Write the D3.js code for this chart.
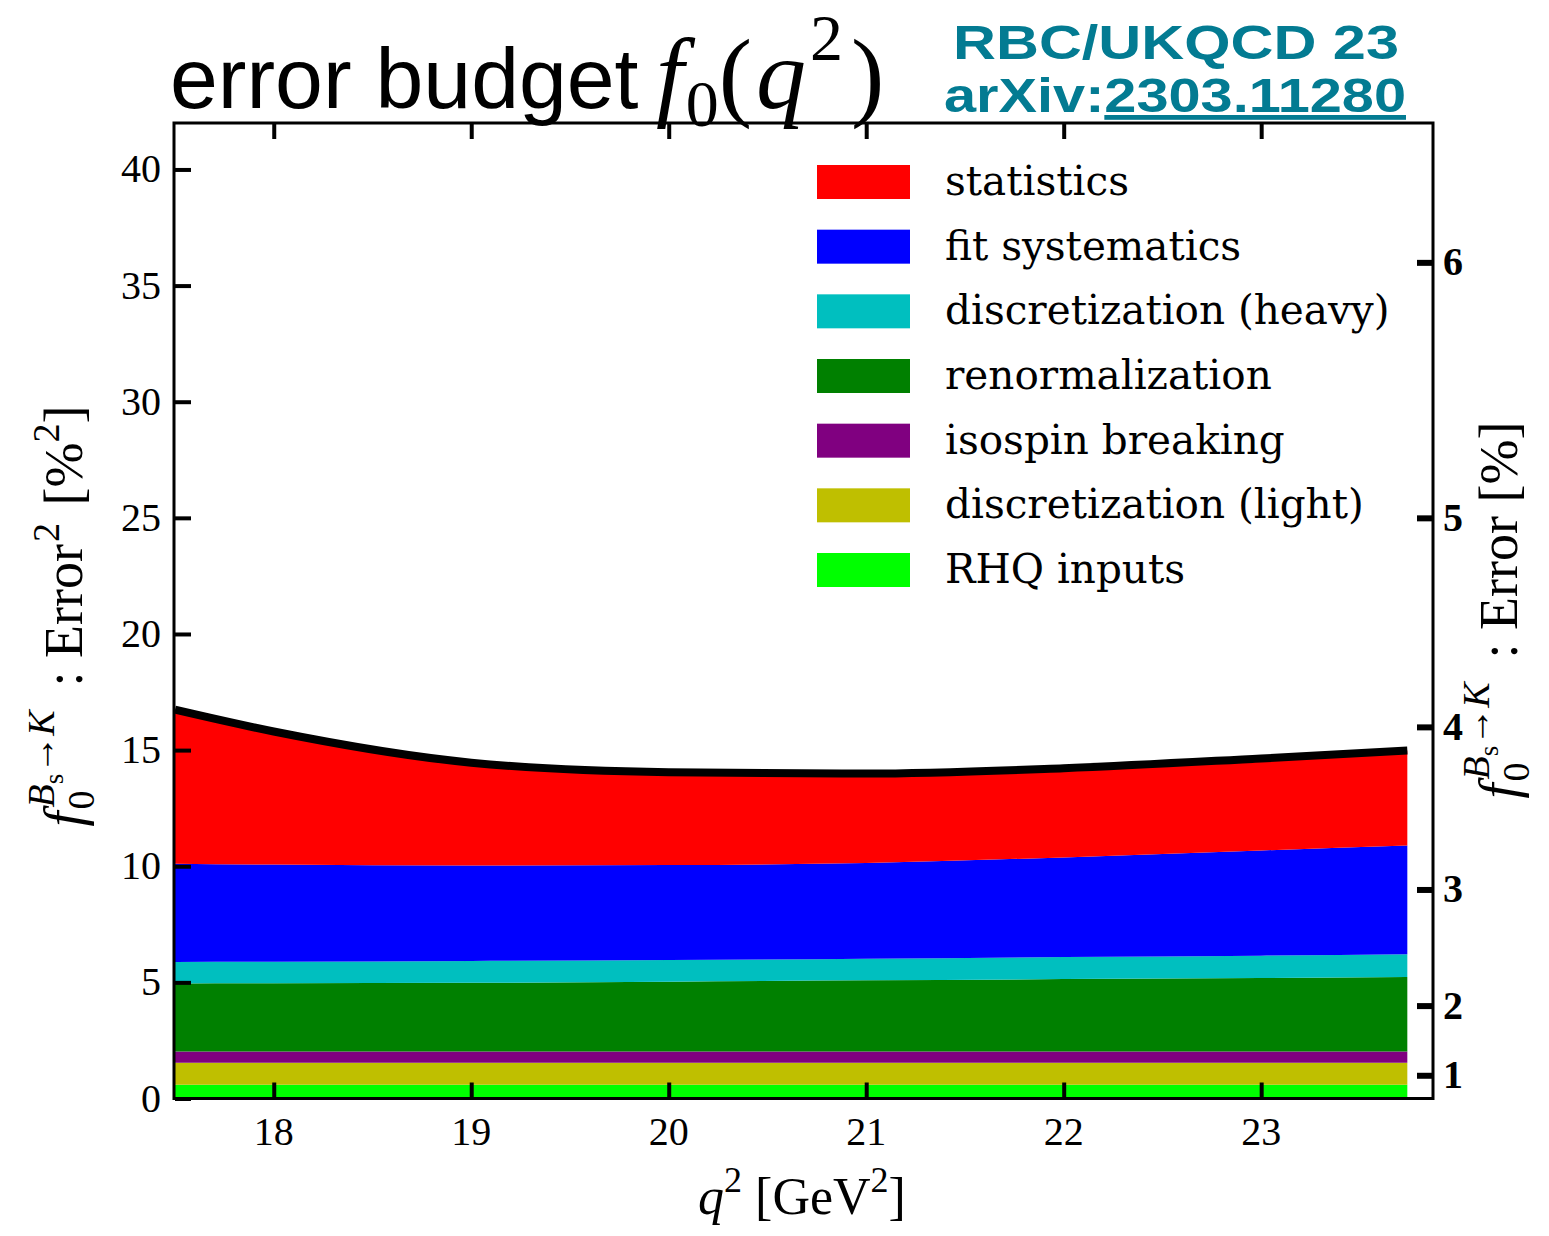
<!DOCTYPE html>
<html><head><meta charset="utf-8">
<script src="https://cdn.jsdelivr.net/npm/d3@7/dist/d3.min.js"></script>
<style>body{margin:0;background:#fff}svg{display:block}</style>
</head><body>
<svg id="chart" width="1549" height="1236"></svg>
<script>
// ---- data ----
const q2 = [17.5, 18, 19, 20, 21, 22, 23, 23.74];
const rhqInputs      = [0.59, 0.59, 0.59, 0.59, 0.59, 0.59, 0.59, 0.59];
const discLight      = [0.95, 0.95, 0.95, 0.95, 0.95, 0.95, 0.95, 0.95];
const isospin        = [0.48, 0.48, 0.48, 0.48, 0.48, 0.48, 0.48, 0.48];
const renormalization= [2.93, 2.94, 2.96, 3.01, 3.07, 3.12, 3.17, 3.21];
const discHeavy      = [0.93, 0.93, 0.94, 0.93, 0.93, 0.95, 0.96, 0.98];
const fitSystematics = [4.23, 4.18, 4.11, 4.09, 4.12, 4.29, 4.53, 4.68];
const statistics     = [6.63, 5.73, 4.43, 4.00, 3.85, 3.84, 3.96, 4.09];

const seriesKeys  = ["RHQ inputs", "discretization (light)", "isospin breaking", "renormalization",
                     "discretization (heavy)", "fit systematics", "statistics"];
const seriesVals  = [rhqInputs, discLight, isospin, renormalization, discHeavy, fitSystematics, statistics];
const seriesColors= ["#00ff00", "#bfbf00", "#800080", "#008000", "#00bfbf", "#0000ff", "#ff0000"];
const legendOrder = ["statistics", "fit systematics", "discretization (heavy)", "renormalization",
                     "isospin breaking", "discretization (light)", "RHQ inputs"];
const xTicks = [18, 19, 20, 21, 22, 23];
const yTicks = [0, 5, 10, 15, 20, 25, 30, 35, 40];
const rightTicks = [1, 2, 3, 4, 5, 6];

// ---- layout ----
const L = 175, R = 1433, T = 123, B = 1098.5;
const svg = d3.select("#chart");
const x = d3.scaleLinear().domain([17.5, 23.87]).range([L, R]);
const y = d3.scaleLinear().domain([0, 42]).range([B, T]);
const color = d3.scaleOrdinal().domain(seriesKeys).range(seriesColors);

const rows = q2.map((q, i) => {
  const r = {q2: q};
  seriesKeys.forEach((k, j) => r[k] = seriesVals[j][i]);
  return r;
});
const stacked = d3.stack().keys(seriesKeys)(rows);

svg.append("clipPath").attr("id", "clip").append("rect")
  .attr("x", L).attr("y", T).attr("width", R - L).attr("height", B - T);

const area = d3.area().curve(d3.curveMonotoneX)
  .x(d => x(d.data.q2)).y0(d => y(d[0])).y1(d => y(d[1]));
const plot = svg.append("g").attr("clip-path", "url(#clip)");
plot.selectAll("path.a").data(stacked).join("path").attr("class", "a")
  .attr("fill", d => color(d.key)).attr("d", area);

const topLayer = stacked[stacked.length - 1];
plot.append("path").datum(topLayer)
  .attr("fill", "none").attr("stroke", "#000").attr("stroke-width", 8)
  .attr("d", d3.line().curve(d3.curveMonotoneX).x(d => x(d.data.q2)).y(d => y(d[1])));

// ---- axes ----
const serif = "'Liberation Serif', 'Times New Roman', serif";
const tickW = 4;
const gL = svg.append("g").attr("transform", `translate(${L},0)`)
  .call(d3.axisRight(y).tickValues(yTicks).tickSize(16).tickFormat(""));
const gB = svg.append("g").attr("transform", `translate(0,${B})`)
  .call(d3.axisTop(x).tickValues(xTicks).tickSize(16).tickFormat(""));
const gT = svg.append("g").attr("transform", `translate(0,${T})`)
  .call(d3.axisBottom(x).tickValues(xTicks).tickSize(16).tickFormat(""));
const yR = d3.scaleLinear().domain([0, 42]).range([B, T]);
const gR = svg.append("g").attr("transform", `translate(${R},0)`)
  .call(d3.axisLeft(yR).tickValues(rightTicks.map(v => v * v)).tickSize(16).tickFormat(""));
[gL, gB, gT].forEach(g => { g.select(".domain").remove(); g.selectAll(".tick line").attr("stroke", "#000").attr("stroke-width", tickW); });
gR.select(".domain").remove();
gR.selectAll(".tick line").attr("stroke", "#000").attr("stroke-width", 6);

svg.append("rect").attr("x", L - 1).attr("y", T).attr("width", R - L + 1).attr("height", B - T)
  .attr("fill", "none").attr("stroke", "#000").attr("stroke-width", 3);

// tick labels
svg.append("g").selectAll("text").data(yTicks).join("text")
  .attr("x", 161).attr("y", d => y(d) + 13).attr("text-anchor", "end")
  .attr("font-family", serif).attr("font-size", 40).text(d => d);
svg.append("g").selectAll("text").data(xTicks).join("text")
  .attr("x", d => x(d)).attr("y", 1145).attr("text-anchor", "middle")
  .attr("font-family", serif).attr("font-size", 40).text(d => d);
svg.append("g").selectAll("text").data(rightTicks).join("text")
  .attr("x", 1443).attr("y", d => yR(d * d) + 13).attr("text-anchor", "start")
  .attr("font-family", serif).attr("font-weight", "bold").attr("font-size", 40).text(d => d);

// ---- legend ----
const lg = svg.append("g");
const rowY = d3.scaleLinear().domain([0, 6]).range([182, 570]);
legendOrder.forEach((k, i) => {
  lg.append("rect").attr("x", 817).attr("y", rowY(i) - 17).attr("width", 93).attr("height", 34)
    .attr("fill", color(k));
  lg.append("text").attr("x", 945).attr("y", rowY(i) + 13)
    .attr("font-family", "'DejaVu Serif', serif").attr("font-size", 40.5).attr("fill", "#000").text(k);
});

// ---- axis titles ----
function fLabel(t, tailParts) {
  t.append("tspan").attr("font-style", "italic").text("f");
  t.append("tspan").attr("font-size", 38).attr("dx", 2).attr("dy", 12).text("0");
  t.append("tspan").attr("font-size", 38).attr("font-style", "italic").attr("dx", -17).attr("dy", -40).text("B");
  t.append("tspan").attr("font-size", 27).attr("dy", 9).text("s");
  t.append("tspan").attr("font-size", 38).attr("dy", -9).text("→");
  t.append("tspan").attr("font-size", 38).attr("font-style", "italic").text("K");
  tailParts(t);
}
const yl = svg.append("text").attr("transform", "translate(82,616) rotate(-90)")
  .attr("text-anchor", "middle").attr("font-family", serif).attr("font-size", 54);
fLabel(yl, t => {
  t.append("tspan").attr("dy", 28).attr("dx", 24).text(": Error");
  t.append("tspan").attr("font-size", 38).attr("dy", -23).attr("dx", 2).text("2");
  t.append("tspan").attr("dy", 23).attr("dx", 4).text(" [%");
  t.append("tspan").attr("font-size", 38).attr("dy", -23).text("2");
  t.append("tspan").attr("dy", 23).text("]");
});
const yr = svg.append("text").attr("transform", "translate(1517,610) rotate(-90)")
  .attr("text-anchor", "middle").attr("font-family", serif).attr("font-size", 54);
fLabel(yr, t => {
  t.append("tspan").attr("dy", 28).attr("dx", 24).text(": Error [%]");
});

const xl = svg.append("text").attr("x", 802).attr("y", 1214).attr("text-anchor", "middle")
  .attr("font-family", serif).attr("font-size", 52);
xl.append("tspan").attr("font-style", "italic").text("q");
xl.append("tspan").attr("font-size", 36).attr("dy", -22).text("2");
xl.append("tspan").attr("dy", 22).text(" [GeV");
xl.append("tspan").attr("font-size", 36).attr("dy", -22).text("2");
xl.append("tspan").attr("dy", 22).text("]");

// ---- title ----
svg.append("text").attr("x", 170).attr("y", 108)
  .attr("font-family", "'Liberation Sans', Arial, sans-serif").attr("font-size", 86).text("error budget");
const tm = svg.append("text").attr("x", 656).attr("y", 108)
  .attr("font-family", serif).attr("font-size", 100);
tm.append("tspan").attr("font-style", "italic").text("f");
tm.append("tspan").attr("font-size", 66).attr("dx", 2).attr("dy", 18).text("0");
tm.append("tspan").attr("dy", -18).text("(");
tm.append("tspan").attr("font-style", "italic").attr("dx", 4).text("q");
tm.append("tspan").attr("font-size", 66).attr("dx", 4).attr("dy", -48).text("2");
tm.append("tspan").attr("dx", 8).attr("dy", 48).text(")");

const teal = "#037b92";
const sans = "'Liberation Sans', Arial, sans-serif";
const hdr = svg.append("text").attr("text-anchor", "middle")
  .attr("font-family", sans).attr("font-weight", "bold").attr("font-size", 48).attr("fill", teal);
hdr.append("tspan").attr("x", 1176).attr("y", 59)
  .attr("textLength", 446).attr("lengthAdjust", "spacingAndGlyphs").text("RBC/UKQCD 23");
const l2 = hdr.append("tspan").attr("x", 1175).attr("y", 112)
  .attr("textLength", 462).attr("lengthAdjust", "spacingAndGlyphs");
l2.append("tspan").text("arXiv:");
l2.append("tspan").attr("text-decoration", "underline").text("2303.11280");
</script>
</body></html>
